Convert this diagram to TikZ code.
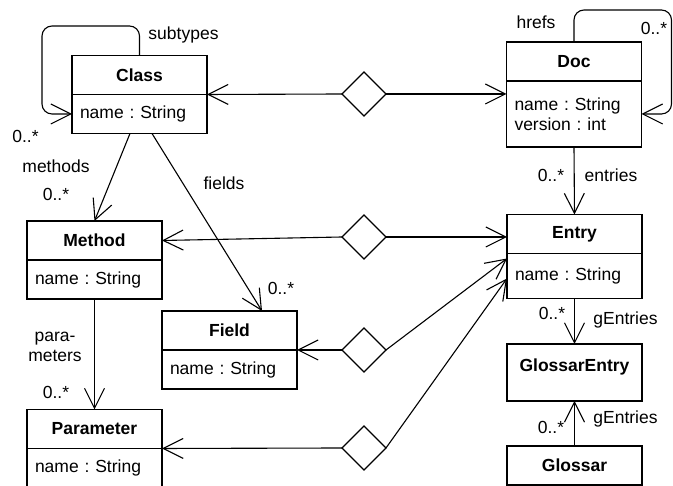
\documentclass[tikz,border=0pt]{standalone}
\usepackage{fontspec}
\setmainfont{Liberation Sans}
\usetikzlibrary{positioning,shapes.geometric,arrows.meta}

\begin{document}
\begin{tikzpicture}[x=1pt,y=1pt,line width=1.1pt,
    font=\fontsize{17.5}{20}\selectfont\frenchspacing,
    cls/.style={draw,font=\fontsize{17.5}{20}\selectfont\bfseries,minimum width=135pt,minimum height=39pt,inner sep=0pt,outer sep=0pt},
    attr/.style={draw,minimum width=135pt,minimum height=39pt,text width=119pt,inner xsep=8pt,inner ysep=0pt,outer sep=0pt,align=left},
    assoc/.style={draw,diamond,minimum width=44pt,minimum height=44pt,inner sep=0pt,outer sep=0pt},
    ref/.style={-{Straight Barb[length=20pt,width=20pt]}},
    lbl/.style={inner sep=0pt}]

      \useasboundingbox (0,0) rectangle (673,486);

      % classes
      \node[cls] (class) at (139.5,411) {Class};
      \node[attr,below=0pt of class] (classA) {name : String};

      \node[cls] (doc) at (574,424.5) {Doc};
      \node[attr,minimum height=66pt,below=0pt of doc] (docA) {name : String\\version : int};

      \node[cls] (method) at (94.5,245.5) {Method};
      \node[attr,below=0pt of method] (methodA) {name : String};

      \node[cls] (field) at (229.5,155.5) {Field};
      \node[attr,below=0pt of field] (fieldA) {name : String};

      \node[cls] (param) at (94.5,57) {Parameter};
      \node[attr,below=0pt of param] (paramA) {name : String};

      \node[cls] (entry) at (574.5,252) {Entry};
      \node[attr,minimum height=45pt,below=0pt of entry] (entryA) {name : String};

      \node[cls,minimum height=57pt,
        label={[anchor=center,yshift=-23pt,font=\fontsize{17.5}{20}\selectfont\bfseries]north:GlossarEntry}] (gentry) at (574.5,113.5) {};

      \node[cls] (glossar) at (574.5,20.5) {Glossar};

      % associations
      \node[assoc] (a1) at (364,392) {};
      \node[assoc] (a2) at (364,249) {};
      \node[assoc] (a3) at (364,136) {};
      \node[assoc] (a4) at (364,38) {};

      \begin{scope}[every edge/.style={draw,ref}]
        \path (a1.west) edge (class.south east);
        \path (a1.east) edge (a1.east -| docA.west);
        \path (a2.west) edge (method.east);
        \path (a2.east) edge (a2.east -| entry.west);
        \path (a3.west) edge (field.south east);
        \path (a3.east) edge ([yshift=-5pt]entryA.north west);
        \path (a4.west) edge (param.south east);
        \path (a4.east) edge ([yshift=-25pt]entryA.north west);

        \path ([xshift=-9.5pt]classA.south) edge (method.north);
        \path ([xshift=12.5pt]classA.south) edge ([xshift=32.5pt]field.north);
        \path (methodA.south) edge (param.north);
        \path (docA.south) edge (entry.north);
        \path (entryA.south) edge (gentry.north);
        \path (glossar.north) edge (gentry.south);
      \end{scope}

      \draw[ref,rounded corners=10pt] (class.north) -- ++(0,29.5) -| ([xshift=-30pt]classA.west) -- (classA.west);
      \draw[ref,rounded corners=10pt] (doc.north) -- ++(0,32) -| ([xshift=30pt]docA.east) -- (docA.east);

      % role names and multiplicities
      \node[lbl] (subtypesL) at (183.5,451) {subtypes};
      \node[lbl] (subtypesM) at (25.5,350) {0..*};
      \node[lbl] (methodsL) at (56,320) {methods};
      \node[lbl] (methodsM) at (56,292) {0..*};
      \node[lbl] (fieldsL) at (224,303) {fields};
      \node[lbl] (fieldsM) at (281,198) {0..*};
      \node[lbl,align=center] (paramsL) at (55,139) {para-\\meters};
      \node[lbl] (paramsM) at (56,94) {0..*};
      \node[lbl] (hrefsL) at (536,464) {hrefs};
      \node[lbl] (hrefsM) at (654,458) {0..*};
      \node[lbl] (entriesM) at (551,311) {0..*};
      \node[lbl] (entriesL) at (611,311) {entries};
      \node[lbl] (gEntriesM) at (552,173) {0..*};
      \node[lbl] (gEntriesL) at (625.5,166) {gEntries};
      \node[lbl] (glossarM) at (551,59) {0..*};
      \node[lbl] (glossarL) at (625.5,67) {gEntries};

    \end{tikzpicture}
\end{document}
